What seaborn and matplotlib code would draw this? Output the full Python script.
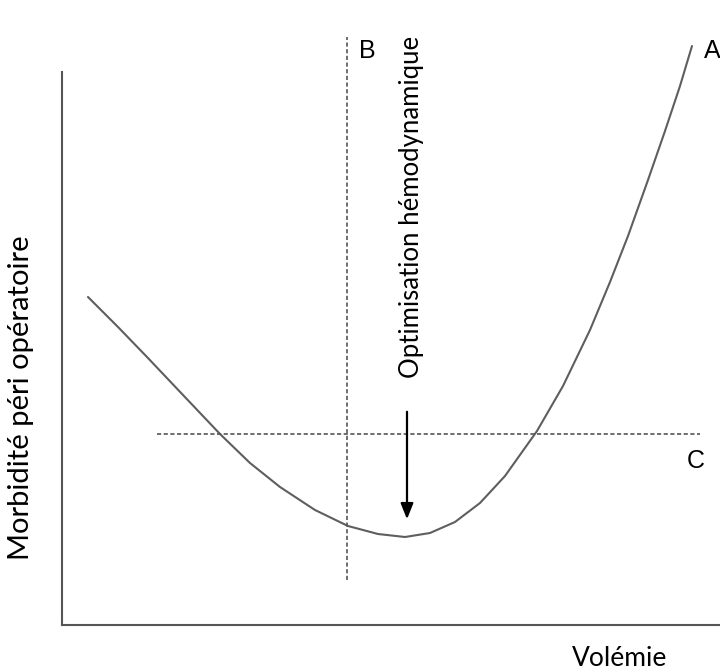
import pandas as pd
import seaborn as sns
import matplotlib.pyplot as plt

# courbe morbidité / volémie (unités arbitraires)
volemie = [26, 56, 85, 121, 158, 188, 218, 253, 286, 316, 343, 368, 393, 418,
           443, 475, 501, 528, 548, 566, 586, 603, 618, 630]
morbidite = [328, 298, 268, 230, 191, 162, 138, 115, 99, 91, 88, 92, 103, 122,
             149, 194, 239, 295, 343, 389, 445, 494, 539, 579]

seuil_b = 285         # ligne verticale B
seuil_c = 191         # ligne horizontale C
optimum = 345         # flèche optimisation

sns.set_style('white')
plt.rcParams['font.family'] = ['Lato', 'DejaVu Sans']

fig = plt.figure(figsize=(7.2, 6.72), dpi=100)
ax = fig.add_axes([62 / 720, 47 / 672, 658 / 720, 595 / 672])

df = pd.DataFrame({'Volémie': volemie, 'Morbidité': morbidite})
sns.lineplot(data=df, x='Volémie', y='Morbidité', ax=ax, color='#5e5e5e',
             linewidth=1.5, sort=False, clip_on=False)

ax.plot([seuil_b, seuil_b], [45, 588], color='#555555', lw=1.2,
        linestyle=(0, (2.5, 1.5)), clip_on=False)
ax.plot([95, 638], [seuil_c, seuil_c], color='#555555', lw=1.2,
        linestyle=(0, (2.5, 1.5)), clip_on=False)

ax.annotate('', xy=(optimum, 103), xytext=(optimum, 216),
            arrowprops=dict(arrowstyle='-|>,head_width=0.38,head_length=0.95',
                            color='black', lw=1.6))

letter_font = dict(family='Liberation Sans', fontsize=18, color='black')
ax.text(297, 574, 'B', ha='left', va='center', clip_on=False, **letter_font)
ax.text(642, 574, 'A', ha='left', va='center', clip_on=False, **letter_font)
ax.text(634, 164, 'C', ha='center', va='center', clip_on=False, **letter_font)

ax.text(349, 418, 'Optimisation hémodynamique', rotation=90, ha='center',
        va='center', fontsize=18.5, color='black')

ax.set_xlim(0, 658)
ax.set_ylim(0, 595)
ax.set_xticks([])
ax.set_yticks([])
ax.set_xlabel('')
ax.set_ylabel('')

for side in ['top', 'right']:
    ax.spines[side].set_visible(False)
for side in ['left', 'bottom']:
    ax.spines[side].set_color('#555555')
    ax.spines[side].set_linewidth(1.5)
ax.spines['left'].set_bounds(0, 553)

fig.text(21 / 720, 1 - 398 / 672, 'Morbidité péri opératoire', rotation=90,
         ha='center', va='center', fontsize=21, color='black')
fig.text(620 / 720, 1 - 659 / 672, 'Volémie', ha='center', va='center',
         fontsize=19, color='black')

fig.savefig('out.png', dpi=100)
